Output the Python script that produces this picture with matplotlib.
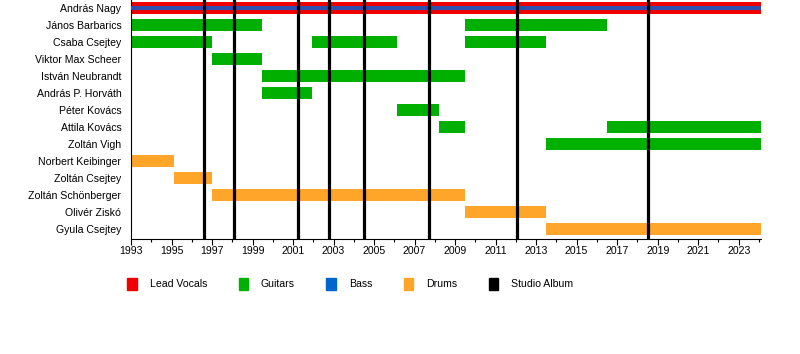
import matplotlib.pyplot as plt
from matplotlib.patches import Patch
from matplotlib.ticker import MultipleLocator

plt.rcParams['font.family'] = ['Liberation Sans', 'DejaVu Sans']

members = ['András Nagy', 'János Barbarics', 'Csaba Csejtey', 'Viktor Max Scheer',
           'István Neubrandt', 'András P. Horváth', 'Péter Kovács', 'Attila Kovács',
           'Zoltán Vigh', 'Norbert Keibinger', 'Zoltán Csejtey', 'Zoltán Schönberger',
           'Olivér Ziskó', 'Gyula Csejtey']

end = 2024.1

# (member index, start, end, role)
stints = [
    (0, 1993.0, end, 'vocals_bass'),
    (1, 1993.0, 1999.45, 'guitars'),
    (1, 2009.5, 2016.5, 'guitars'),
    (2, 1993.0, 1997.0, 'guitars'),
    (2, 2001.95, 2006.15, 'guitars'),
    (2, 2009.5, 2013.5, 'guitars'),
    (3, 1997.0, 1999.45, 'guitars'),
    (4, 1999.45, 2009.5, 'guitars'),
    (5, 1999.45, 2001.95, 'guitars'),
    (6, 2006.15, 2008.2, 'guitars'),
    (7, 2008.2, 2009.5, 'guitars'),
    (7, 2016.5, end, 'guitars'),
    (8, 2013.5, end, 'guitars'),
    (9, 1993.0, 1995.1, 'drums'),
    (10, 1995.1, 1997.0, 'drums'),
    (11, 1997.0, 2009.5, 'drums'),
    (12, 2009.5, 2013.5, 'drums'),
    (13, 2013.5, end, 'drums'),
]

albums = [1996.6, 1998.1, 2001.25, 2002.78, 2004.5, 2007.7, 2012.05, 2018.5]

red = '#f00000'
green = '#00b000'
blue = '#0066cc'
orange = '#ffa52a'

fig = plt.figure(figsize=(8, 3.54), dpi=100)
ax = fig.add_axes([0.16375, 0.325, 0.7875, 0.675])

for i, s, e, role in stints:
    if role == 'vocals_bass':
        ax.barh(i, e - s, left=s, height=0.72, color=red, zorder=2)
        ax.barh(i, e - s, left=s, height=0.24, color='#3050b0', zorder=3)
    else:
        c = green if role == 'guitars' else orange
        ax.barh(i, e - s, left=s, height=0.72, color=c, zorder=2)

for a in albums:
    ax.axvline(a, color='black', lw=2.3, zorder=4)

ax.set_xlim(1993, end)
ax.set_ylim(13.6, -0.45)
ax.set_yticks(range(len(members)))
ax.set_yticklabels(members, fontsize=7.6)
ax.tick_params(axis='y', length=0, pad=7)
ax.xaxis.set_major_locator(MultipleLocator(2))
ax.xaxis.set_minor_locator(MultipleLocator(1))
ax.set_xticks(range(1993, 2024, 2))
ax.tick_params(axis='x', which='major', length=4, width=0.8, labelsize=7.6, pad=1)
ax.tick_params(axis='x', which='minor', length=2.5, width=0.8)
for side in ['top', 'right']:
    ax.spines[side].set_visible(False)
ax.spines['left'].set_linewidth(0.8)
ax.spines['bottom'].set_linewidth(0.8)

handles = [Patch(color=red, label='Lead Vocals'),
           Patch(color=green, label='Guitars'),
           Patch(color=blue, label='Bass'),
           Patch(color=orange, label='Drums'),
           Patch(color='black', label='Studio Album')]
fig.legend(handles=handles, loc='center left', bbox_to_anchor=(0.154, 0.198),
           ncol=5, frameon=False, fontsize=7.6, handlelength=0.9,
           handleheight=1.3, handletextpad=1.2, columnspacing=3.0,
           borderaxespad=0)

fig.savefig('out.png', dpi=100)
